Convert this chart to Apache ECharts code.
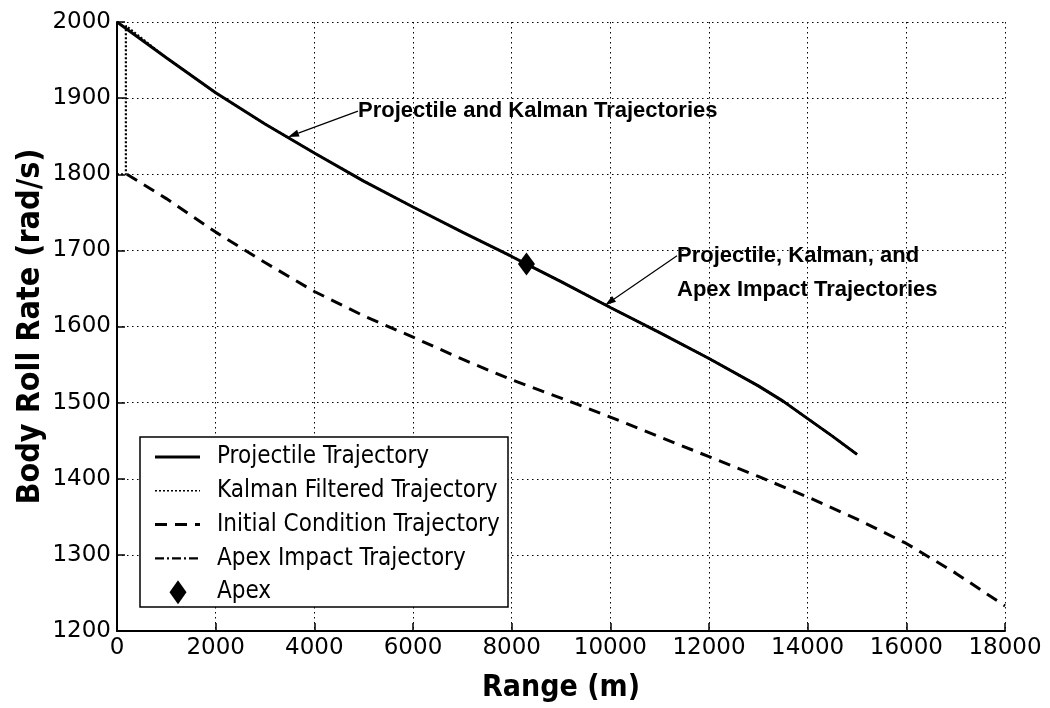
<!DOCTYPE html>
<html>
<head>
<meta charset="utf-8">
<title>Body Roll Rate vs Range</title>
<script src="https://cdn.jsdelivr.net/npm/echarts@6/dist/echarts.min.js"></script>
<style>
  html, body { margin: 0; padding: 0; background: #fff; }
  #chart { width: 1050px; height: 708px; }
</style>
</head>
<body>
<div id="chart"></div>
<script>
// Range (m) and body roll rate (rad/s) samples for each trajectory
const projectileRange = [0, 1000, 2000, 3000, 4000, 5000, 6000, 7000, 8000, 8300, 9000, 10000, 11000, 12000, 13000, 13500, 14000, 14500, 15000];
const projectileRate  = [2000, 1953, 1907, 1866, 1828, 1791, 1757, 1724, 1692, 1682, 1659, 1625, 1592, 1558, 1522, 1502, 1479, 1456, 1432];

const kalmanRange = [0, 180, 180, 1000, 2000, 3000, 4000, 5000, 6000, 7000, 8000, 8300, 9000, 10000, 11000, 12000, 13000, 13500, 14000, 14500, 15000];
const kalmanRate  = [1800, 1800, 1995, 1953, 1907, 1866, 1828, 1791, 1757, 1724, 1692, 1682, 1659, 1625, 1592, 1558, 1522, 1502, 1479, 1456, 1432];

const initialRange = [200, 1000, 2000, 3000, 4000, 5000, 6000, 7000, 8000, 9000, 10000, 11000, 12000, 13000, 14000, 15000, 16000, 17000, 18000];
const initialRate  = [1800, 1768, 1724, 1684, 1646, 1614, 1586, 1557, 1530, 1506, 1481, 1455, 1429, 1403, 1376, 1347, 1315, 1276, 1233];

const apexImpactRange = [8300, 9000, 10000, 11000, 12000, 13000, 13500, 14000, 14500, 15000];
const apexImpactRate  = [1682, 1659, 1625, 1592, 1558, 1522, 1502, 1479, 1456, 1432];

const apexPoint = [8300, 1682];

const xTicks = { min: 0, max: 18000, interval: 2000 };
const yTicks = { min: 1200, max: 2000, interval: 100 };

const seriesNames = [
  'Projectile Trajectory',
  'Kalman Filtered Trajectory',
  'Initial Condition Trajectory',
  'Apex Impact Trajectory',
  'Apex'
];

// Callout texts with the data point each arrow points at
const callouts = [
  { text: 'Projectile and Kalman Trajectories', textAt: [4885, 1883], tip: [3466, 1849] },
  { text: 'Projectile, Kalman, and\nApex Impact Trajectories', textAt: [11352, 1693], tip: [9892, 1628] }
];

const pairs = (xs, ys) => xs.map((x, i) => [x, ys[i]]);

// Line styles shared by the series and the legend key
const styles = {
  'Projectile Trajectory':        { width: 3,   dash: null },
  'Kalman Filtered Trajectory':   { width: 2.2, dash: [2, 2] },
  'Initial Condition Trajectory': { width: 3,   dash: [12, 8] },
  'Apex Impact Trajectory':       { width: 2.2, dash: [9, 3, 2, 3] }
};
const lineType = name => styles[name].dash || 'solid';

const chart = echarts.init(document.getElementById('chart'), null, { renderer: 'canvas' });

const tickFont = 'DejaVu Sans';
const labelFont = 'DejaVu Sans Condensed';

const axisCommon = {
  axisLine: { show: true, onZero: false, lineStyle: { color: '#000', width: 2 } },
  axisTick: { show: true, inside: true, length: 8, lineStyle: { color: '#000', width: 1.5 } },
  splitLine: { show: true, lineStyle: { color: '#000', width: 1, type: [1.5, 3.5] } },
  axisLabel: { color: '#000', fontFamily: tickFont, fontSize: 23, margin: 6, formatter: v => String(v) },
  nameTextStyle: { color: '#000', fontFamily: labelFont, fontSize: 30, fontWeight: 'bold' }
};

chart.setOption({
  animation: false,
  backgroundColor: '#fff',
  color: ['#000'],
  grid: { left: 117, right: 45, top: 22, bottom: 71, containLabel: false },
  xAxis: Object.assign({}, axisCommon, {
    type: 'value',
    min: xTicks.min, max: xTicks.max, interval: xTicks.interval,
    name: 'Range (m)', nameLocation: 'middle', nameGap: 42
  }),
  yAxis: Object.assign({}, axisCommon, {
    type: 'value',
    min: yTicks.min, max: yTicks.max, interval: yTicks.interval,
    name: 'Body Roll Rate (rad/s)', nameLocation: 'middle', nameGap: 70,
    nameMoveOverlap: false,
    nameTextStyle: Object.assign({}, axisCommon.nameTextStyle, { fontSize: 32 })
  }),
  series: [
    {
      name: seriesNames[3], type: 'line', z: 2,
      data: pairs(apexImpactRange, apexImpactRate),
      symbol: 'none',
      lineStyle: { color: '#000', width: styles[seriesNames[3]].width, type: lineType(seriesNames[3]) }
    },
    {
      name: seriesNames[1], type: 'line', z: 3,
      data: pairs(kalmanRange, kalmanRate),
      symbol: 'none',
      lineStyle: { color: '#000', width: styles[seriesNames[1]].width, type: lineType(seriesNames[1]) }
    },
    {
      name: seriesNames[2], type: 'line', z: 3,
      data: pairs(initialRange, initialRate),
      symbol: 'none',
      lineStyle: { color: '#000', width: styles[seriesNames[2]].width, type: lineType(seriesNames[2]) }
    },
    {
      name: seriesNames[0], type: 'line', z: 4,
      data: pairs(projectileRange, projectileRate),
      symbol: 'none',
      lineStyle: { color: '#000', width: styles[seriesNames[0]].width, type: lineType(seriesNames[0]) }
    },
    {
      name: seriesNames[4], type: 'scatter', z: 5,
      data: [apexPoint],
      symbol: 'diamond', symbolSize: [17, 23],
      itemStyle: { color: '#000', opacity: 1 }
    }
  ]
});

// Legend key box in the lower left of the plot
function legendElements() {
  const box = { x: 140, y: 437, w: 368, h: 170 };
  const rowY0 = 457, rowStep = 33.8;
  const keyX1 = 155, keyX2 = 200, textX = 217;
  const els = [{
    type: 'rect', z: 60, silent: true,
    shape: { x: box.x, y: box.y, width: box.w, height: box.h },
    style: { fill: '#fff', stroke: '#000', lineWidth: 1.5 }
  }];
  seriesNames.forEach((name, i) => {
    const y = rowY0 + i * rowStep;
    if (styles[name]) {
      const keyWidth = name === 'Kalman Filtered Trajectory' ? 1.4 : styles[name].width;
      els.push({
        type: 'line', z: 61, silent: true,
        shape: { x1: keyX1, y1: y, x2: keyX2, y2: y },
        style: { stroke: '#000', lineWidth: keyWidth, lineDash: styles[name].dash || null }
      });
    } else {
      els.push({
        type: 'polygon', z: 61, silent: true,
        shape: { points: [[178, y - 12], [186.5, y], [178, y + 12], [169.5, y]] },
        style: { fill: '#000' }
      });
    }
    els.push({
      type: 'text', z: 61, silent: true,
      x: textX, y: y,
      style: {
        text: name, fill: '#000',
        font: '24px "DejaVu Sans Condensed", "DejaVu Sans", sans-serif',
        align: 'left', verticalAlign: 'middle'
      }
    });
  });
  return els;
}

// Callout arrows and texts, placed through the axis scales
function calloutElements() {
  const els = [];
  callouts.forEach(c => {
    const p0 = chart.convertToPixel({ gridIndex: 0 }, c.textAt);
    const p1 = chart.convertToPixel({ gridIndex: 0 }, c.tip);
    const ang = Math.atan2(p1[1] - p0[1], p1[0] - p0[0]);
    const headLen = 11, headHalf = 3.5;
    const bx = p1[0] - headLen * Math.cos(ang), by = p1[1] - headLen * Math.sin(ang);
    const nx = -Math.sin(ang) * headHalf, ny = Math.cos(ang) * headHalf;
    els.push({
      type: 'line', z: 50, silent: true,
      shape: { x1: p0[0], y1: p0[1], x2: bx, y2: by },
      style: { stroke: '#000', lineWidth: 1.2 }
    });
    els.push({
      type: 'polygon', z: 50, silent: true,
      shape: { points: [[p1[0], p1[1]], [bx + nx, by + ny], [bx - nx, by - ny]] },
      style: { fill: '#000' }
    });
    els.push({
      type: 'text', z: 50, silent: true,
      x: p0[0], y: p0[1] - 17,
      style: {
        text: c.text, fill: '#000',
        font: 'bold 22px "Liberation Sans", Arial, sans-serif',
        lineHeight: 34, align: 'left', verticalAlign: 'top'
      }
    });
  });
  return els;
}

chart.setOption({ graphic: { elements: legendElements().concat(calloutElements()) } });
</script>
</body>
</html>
